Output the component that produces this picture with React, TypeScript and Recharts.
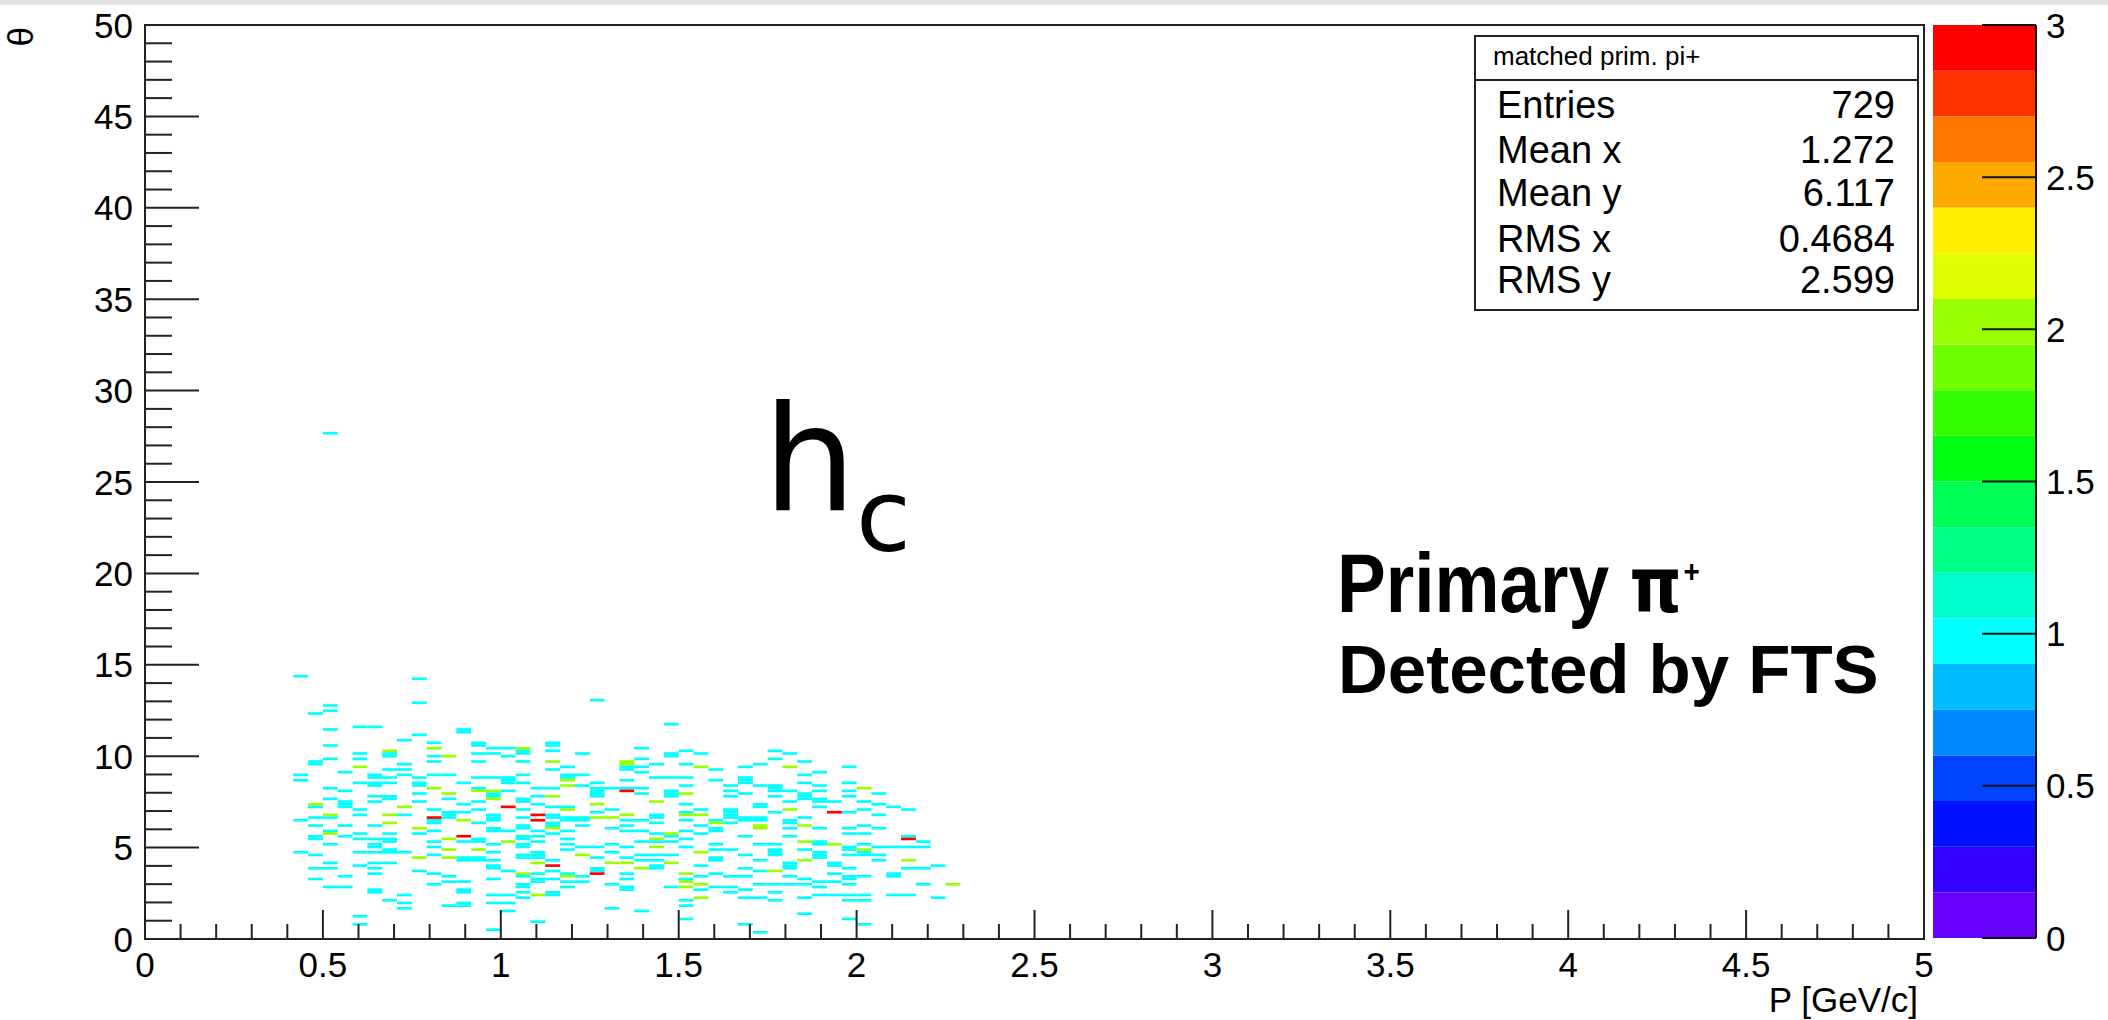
import React from 'react';
import { ScatterChart, Scatter, XAxis, YAxis, ReferenceArea, BarChart, Bar } from 'recharts';

// binning of the 2D histogram
const P_BIN = 1 / 24;
const THETA_BIN = 0.146;

const X_MAJOR = [0, 0.5, 1, 1.5, 2, 2.5, 3, 3.5, 4, 4.5, 5];
const X_MINOR = [0.1, 0.2, 0.3, 0.4, 0.6, 0.7, 0.8, 0.9, 1.1, 1.2, 1.3, 1.4, 1.6, 1.7, 1.8, 1.9, 2.1, 2.2, 2.3, 2.4,
  2.6, 2.7, 2.8, 2.9, 3.1, 3.2, 3.3, 3.4, 3.6, 3.7, 3.8, 3.9, 4.1, 4.2, 4.3, 4.4, 4.6, 4.7, 4.8, 4.9];
const Y_MAJOR = [0, 5, 10, 15, 20, 25, 30, 35, 40, 45, 50];
const Y_MINOR = [1, 2, 3, 4, 6, 7, 8, 9, 11, 12, 13, 14, 16, 17, 18, 19, 21, 22, 23, 24, 26, 27, 28, 29,
  31, 32, 33, 34, 36, 37, 38, 39, 41, 42, 43, 44, 46, 47, 48, 49];
const Z_TICKS = [0, 0.5, 1, 1.5, 2, 2.5, 3];
const Z_MAX = 3;

// ROOT palette, bottom to top
const PALETTE = ['#6600ff', '#3300ff', '#0011ff', '#0044ff', '#0088ff', '#00bbff', '#00ffff', '#00ffcc', '#00ff88', '#00ff55',
  '#00ff11', '#33ff00', '#70ff00', '#99ff00', '#e0ff00', '#ffee00', '#ffaa00', '#ff7700', '#ff3300', '#ff0000'];

const STAT_NAMES = ['Entries', 'Mean x', 'Mean y', 'RMS x', 'RMS y'];
const STAT_VALUES = ['729', '1.272', '6.117', '0.4684', '2.599'];

// [P bin, theta bin] for cells with 1, 2 and 3 entries
const CELLS_1 = [
  [10,98],[18,97],[30,89],[18,88],[12,87],[12,85],[11,84],[35,80],[14,79],[15,79],[12,78],[21,78],[21,77],[18,76],[17,74],
  [19,73],[22,73],[22,72],[12,72],[23,71],[24,71],[27,73],[27,72],[27,70],[25,70],[25,69],[14,69],[22,69],[23,69],[29,69],
  [33,71],[16,69],[16,68],[35,69],[35,68],[19,68],[24,68],[12,67],[14,67],[33,67],[19,66],[22,66],[25,66],[17,65],[34,65],
  [11,66],[11,65],[32,64],[32,63],[28,64],[33,64],[16,63],[17,63],[27,63],[13,62],[33,62],[10,61],[17,61],[19,61],[20,61],
  [25,61],[28,61],[29,61],[15,61],[15,60],[16,60],[22,60],[23,60],[24,60],[34,60],[35,60],[18,60],[28,60],[10,59],[32,59],
  [15,58],[16,58],[24,59],[24,58],[14,58],[21,58],[25,58],[30,58],[15,57],[18,58],[18,57],[29,57],[12,56],[22,56],[26,56],
  [30,56],[31,56],[32,56],[33,56],[27,56],[13,55],[24,55],[30,55],[18,54],[33,54],[23,54],[23,53],[30,54],[30,53],[35,55],
  [35,54],[35,53],[15,53],[26,53],[16,53],[16,52],[12,52],[20,52],[25,52],[25,51],[15,51],[18,51],[22,51],[13,51],[13,50],
  [13,49],[21,50],[26,50],[11,49],[27,49],[28,49],[14,48],[19,48],[22,48],[25,48],[31,48],[20,47],[21,47],[30,47],[14,46],
  [17,46],[23,46],[23,45],[23,44],[20,46],[20,45],[27,46],[27,45],[11,45],[12,45],[25,45],[34,46],[34,45],[28,45],[28,44],
  [29,45],[29,44],[10,44],[32,44],[33,44],[22,43],[34,43],[19,44],[19,43],[11,42],[13,42],[15,42],[25,42],[29,42],[32,42],
  [27,43],[27,42],[31,41],[25,41],[23,41],[23,40],[12,40],[19,40],[26,40],[28,40],[32,40],[33,40],[24,40],[14,39],[16,39],
  [18,39],[27,39],[34,39],[13,38],[25,38],[26,38],[35,38],[11,38],[11,37],[14,37],[15,37],[25,37],[28,37],[16,37],[16,36],
  [22,37],[22,36],[19,36],[21,36],[26,36],[33,36],[34,36],[35,36],[12,35],[23,35],[28,35],[31,35],[15,35],[15,34],[25,35],
  [25,34],[19,34],[29,34],[30,34],[32,34],[16,33],[28,33],[31,32],[10,32],[14,32],[15,32],[16,32],[17,32],[23,32],[26,32],
  [26,31],[26,30],[11,31],[19,31],[33,31],[34,31],[25,31],[25,30],[35,31],[21,30],[21,29],[22,30],[22,29],[32,30],[30,30],
  [23,29],[33,29],[34,29],[27,29],[12,28],[15,28],[16,28],[14,27],[34,27],[34,26],[23,27],[23,26],[11,26],[12,26],[15,26],
  [30,26],[30,25],[18,25],[24,25],[27,25],[15,24],[19,24],[26,24],[28,24],[32,24],[13,23],[29,23],[20,23],[25,23],[11,22],
  [23,22],[26,22],[27,22],[32,22],[20,21],[21,21],[26,21],[28,21],[29,21],[19,20],[31,20],[25,20],[25,19],[12,19],[13,19],
  [28,19],[35,19],[32,19],[32,18],[15,18],[15,17],[21,18],[21,17],[25,17],[27,17],[27,16],[17,16],[23,16],[24,16],[25,15],
  [16,14],[17,13],[23,13],[24,13],[21,13],[21,12],[20,12],[17,11],[31,11],[24,10],[33,10],[14,8],[26,6],[14,5],[23,3],
  [12,189],
  [36,70],[42,70],[37,69],[43,69],[42,67],[44,66],[36,65],[41,65],[40,64],[47,64],[38,63],[45,62],[44,61],[36,60],[38,59],
  [40,60],[40,59],[40,58],[44,58],[47,58],[39,57],[41,57],[36,57],[45,57],[42,57],[42,56],[42,55],[39,55],[43,55],[45,55],
  [47,55],[40,54],[49,54],[44,54],[44,53],[44,52],[39,53],[47,53],[42,53],[45,52],[45,51],[43,51],[46,51],[48,51],[36,50],
  [49,50],[50,49],[45,49],[41,50],[41,49],[37,48],[48,48],[51,48],[39,48],[39,47],[39,46],[39,45],[36,47],[42,47],[47,47],
  [49,46],[40,45],[44,45],[41,45],[36,44],[38,44],[40,44],[41,44],[43,44],[43,43],[39,43],[37,42],[48,42],[45,41],[38,41],
  [38,40],[43,41],[47,41],[49,41],[36,40],[37,39],[47,39],[48,39],[40,38],[51,38],[43,38],[36,37],[45,36],[45,35],[52,36],
  [38,35],[41,35],[42,35],[48,35],[49,34],[50,34],[51,34],[52,34],[47,34],[47,33],[36,34],[38,33],[39,33],[44,33],[42,33],
  [42,32],[42,31],[45,32],[45,31],[45,30],[47,31],[49,31],[48,32],[48,31],[40,31],[38,30],[38,29],[49,29],[41,29],[43,28],
  [43,27],[43,26],[46,28],[46,27],[37,27],[53,27],[47,26],[51,26],[52,26],[40,26],[41,25],[46,24],[38,24],[37,23],[43,23],
  [48,23],[50,24],[50,23],[47,23],[47,22],[39,23],[40,23],[36,22],[44,22],[45,21],[46,21],[41,20],[42,20],[43,20],[44,20],
  [47,20],[52,20],[38,19],[39,19],[45,19],[40,18],[37,18],[39,17],[42,17],[45,16],[51,16],[46,16],[47,16],[48,16],[50,16],
  [40,15],[41,15],[44,15],[53,15],[36,14],[42,14],[47,14],[48,14],[36,12],[44,9],[36,7],[47,7],[40,5],[48,5],[41,2],
];
const CELLS_2 = [
  [19,71],[25,71],[16,70],[20,68],[27,66],[32,66],[32,65],[14,64],[28,59],[28,57],[19,56],[22,55],[23,55],[20,54],[27,53],
  [23,52],[34,51],[11,50],[30,50],[17,49],[28,48],[12,46],[16,46],[32,46],[30,45],[31,45],[21,44],[16,43],[27,41],[18,41],
  [12,39],[35,39],[20,37],[34,37],[24,36],[34,34],[20,33],[22,33],[29,31],[18,30],[20,30],[26,28],[31,28],[32,28],[35,28],
  [33,26],[25,24],[28,23],[26,16],
  [37,64],[43,64],[48,56],[36,54],[43,48],[36,46],[37,46],[38,43],[41,42],[44,42],[41,41],[44,36],[46,35],[48,33],[37,32],
  [44,29],[51,29],[42,25],[36,24],[36,21],[37,20],[54,20],[36,19],[37,15],
];
const CELLS_3 = [[32,55],[24,49],[26,46],[19,45],[26,44],[21,38],[27,27],[30,24],[46,47],[51,37]];

const FONT = "'Liberation Sans', Arial, sans-serif";
const AXIS = '#222';

const zColor = (v: number) => PALETTE[Math.min(PALETTE.length - 1, Math.floor((v / Z_MAX) * PALETTE.length))];

const bandRow: Record<string, any> = { name: 'z' };
PALETTE.forEach((_, i) => { bandRow['b' + i] = Z_MAX / PALETTE.length; });

const XMajorTick = (p: any) => (
  <g>
    <line x1={p.x} x2={p.x} y1={p.y} y2={p.y - 29} stroke={AXIS} strokeWidth={2} />
    <text x={p.x} y={p.y + 38} textAnchor="middle" fontSize={35} fontFamily={FONT} fill="#000">{String(p.payload.value)}</text>
  </g>
);
const XMinorTick = (p: any) => <line x1={p.x} x2={p.x} y1={p.y - 1} y2={p.y - 16} stroke={AXIS} strokeWidth={2} />;
const YMajorTick = (p: any) => (
  <g>
    <line x1={p.x} x2={p.x + 54} y1={p.y} y2={p.y} stroke={AXIS} strokeWidth={2} />
    <text x={p.x - 12} y={p.y + 12.5} textAnchor="end" fontSize={35} fontFamily={FONT} fill="#000">{String(p.payload.value)}</text>
  </g>
);
const YMinorTick = (p: any) => <line x1={p.x + 1} x2={p.x + 28} y1={p.y} y2={p.y} stroke={AXIS} strokeWidth={2} />;
const ZTick = (p: any) => (
  <g>
    <line x1={p.x} x2={p.x - 54} y1={p.y} y2={p.y} stroke="#111" strokeWidth={2} />
    <text x={p.x + 10} y={p.y + 12.5} textAnchor="start" fontSize={35} fontFamily={FONT} fill="#000">{String(p.payload.value)}</text>
  </g>
);

const cellAreas = (cells: number[][], count: number, tag: string) =>
  cells.map(([i, j], n) => (
    <ReferenceArea
      key={tag + n}
      xAxisId="maj"
      yAxisId="maj"
      x1={i * P_BIN}
      x2={(i + 1) * P_BIN}
      y1={j * THETA_BIN}
      y2={(j + 1) * THETA_BIN}
      fill={zColor(count)}
      fillOpacity={1}
      stroke="none"
    />
  ));

const STAT_BASELINES = [118, 163, 206, 252, 293];

export default function App() {
  return (
    <div style={{ position: 'absolute', left: 0, top: 0, width: 2108, height: 1020, background: '#fff', overflow: 'hidden' }}>
      <div style={{ position: 'absolute', left: 0, top: 0, width: 2108, height: 5, background: '#e2e2e2' }} />
      <div style={{ position: 'absolute', left: 0, top: 0 }}>
        <ScatterChart width={2108} height={1020} margin={{ top: 25, right: 184, bottom: 79, left: 143 }}>
          <XAxis xAxisId="maj" type="number" dataKey="x" domain={[0, 5]} ticks={X_MAJOR} interval={0} height={1}
            tickSize={0} tickMargin={0} axisLine={false} tickLine={false} tick={XMajorTick} allowDataOverflow />
          <XAxis xAxisId="min" type="number" dataKey="x" domain={[0, 5]} ticks={X_MINOR} interval={0} height={1}
            tickSize={0} tickMargin={0} axisLine={false} tickLine={false} tick={XMinorTick} allowDataOverflow />
          <YAxis yAxisId="maj" type="number" dataKey="y" domain={[0, 50]} ticks={Y_MAJOR} interval={0} width={1}
            tickSize={0} tickMargin={0} axisLine={false} tickLine={false} tick={YMajorTick} allowDataOverflow />
          <YAxis yAxisId="min" type="number" dataKey="y" domain={[0, 50]} ticks={Y_MINOR} interval={0} width={1}
            tickSize={0} tickMargin={0} axisLine={false} tickLine={false} tick={YMinorTick} allowDataOverflow />
          <Scatter xAxisId="maj" yAxisId="maj" data={[]} isAnimationActive={false} />
          <Scatter xAxisId="min" yAxisId="min" data={[]} isAnimationActive={false} />
          {cellAreas(CELLS_1, 1, 'a')}
          {cellAreas(CELLS_2, 2, 'b')}
          {cellAreas(CELLS_3, 3, 'c')}
          <ReferenceArea xAxisId="maj" yAxisId="maj" x1={0} x2={5} y1={0} y2={50} fill="none" stroke={AXIS} strokeWidth={2} />
        </ScatterChart>
      </div>
      <div style={{ position: 'absolute', left: 1933, top: 0 }}>
        <BarChart width={175} height={1020} data={[bandRow]} margin={{ top: 25, right: 71, bottom: 82, left: 0 }}
          barCategoryGap={0} barGap={0}>
          <XAxis dataKey="name" hide />
          <YAxis orientation="right" type="number" domain={[0, Z_MAX]} ticks={Z_TICKS} interval={0} width={1}
            tickSize={0} tickMargin={0} axisLine={{ stroke: '#111', strokeWidth: 2 }} tickLine={false} tick={ZTick} allowDataOverflow />
          {PALETTE.map((c, i) => (
            <Bar key={c} dataKey={'b' + i} stackId="z" fill={c} isAnimationActive={false} />
          ))}
        </BarChart>
      </div>
      <svg width={2108} height={1020} style={{ position: 'absolute', left: 0, top: 0, pointerEvents: 'none' }}>
        <text transform="translate(33,27) rotate(-90)" textAnchor="end" fontSize={35} fontFamily={FONT} fill="#000">θ</text>
        <text x={1918} y={1012} textAnchor="end" fontSize={35} fontFamily={FONT} fill="#000">P [GeV/c]</text>
        <rect x={1475} y={36} width={443} height={274} fill="#fff" stroke={AXIS} strokeWidth={2} />
        <line x1={1475} x2={1918} y1={80} y2={80} stroke={AXIS} strokeWidth={2} />
        <text x={1493} y={65} fontSize={26} fontFamily={FONT} fill="#000">matched prim. pi+</text>
        {STAT_NAMES.map((s, i) => (
          <text key={s} x={1497} y={STAT_BASELINES[i]} fontSize={38} fontFamily={FONT} fill="#000">{s}</text>
        ))}
        {STAT_VALUES.map((s, i) => (
          <text key={s} x={1895} y={STAT_BASELINES[i]} textAnchor="end" fontSize={38} fontFamily={FONT} fill="#000">{s}</text>
        ))}
        <text x={763} y={510} fontSize={147} fontFamily="'DejaVu Sans', sans-serif" fill="#000">h</text>
        <text x={856} y={551} fontSize={100} fontFamily="'DejaVu Sans', sans-serif" fill="#000">c</text>
        <g transform="translate(1337,612) scale(0.87,1)">
          <text x={0} y={0} fontSize={84} fontWeight="bold" fontFamily={FONT} fill="#000">
            Primary <tspan fontFamily="'DejaVu Sans', sans-serif" fontSize={76}>π</tspan>
            <tspan fontSize={32} dx={2} dy={-30}>+</tspan>
          </text>
        </g>
        <text x={1338} y={693} fontSize={69} fontWeight="bold" fontFamily={FONT} fill="#000">Detected by FTS</text>
      </svg>
    </div>
  );
}
